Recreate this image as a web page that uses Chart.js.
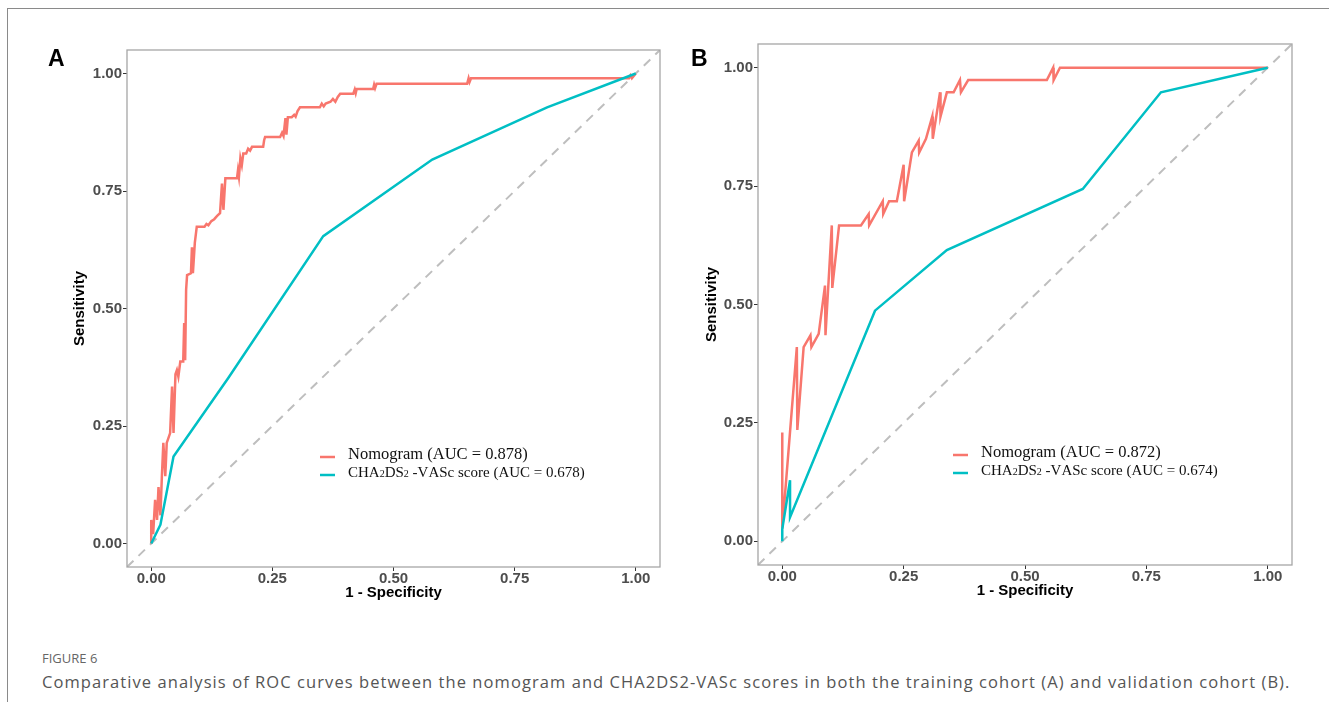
<!DOCTYPE html>
<html lang="en">
<head>
  <meta charset="UTF-8">
  <title>Figure 6 - ROC curves</title>
  <style>
    body {
      margin: 0;
      padding: 0;
      background-color: #fff;
      width: 1329px;
      height: 702px;
      overflow: hidden;
      position: relative;
      font-family: 'Liberation Sans', Arial, sans-serif;
    }

    .frame {
      position: absolute;
      left: 7px;
      top: 8px;
      width: 1330px;
      height: 700px;
      border-top: 1px solid #8a8a8a;
      border-left: 1px solid #8a8a8a;
    }

    .panel {
      position: absolute;
    }

    .letter {
      position: absolute;
      font-weight: bold;
      font-size: 23px;
      color: #000;
    }

    .fig-no {
      position: absolute;
      left: 42px;
      top: 649px;
      font-family: 'Open Sans', sans-serif;
      font-size: 13px;
      color: #666;
    }

    .caption {
      position: absolute;
      left: 42px;
      top: 670px;
      font-family: 'Open Sans', sans-serif;
      font-size: 16.5px;
      letter-spacing: 1.07px;
      color: #555;
      white-space: nowrap;
    }
  </style>
</head>
<body>

  <div class="frame"></div>

  <canvas id="chartA" class="panel" width="630" height="600" style="left:40px; top:20px;"></canvas>
  <canvas id="chartB" class="panel" width="630" height="606" style="left:680px; top:14px;"></canvas>

  <div class="letter" style="left:48px; top:45px;">A</div>
  <div class="letter" style="left:691px; top:45px;">B</div>

  <div class="fig-no">FIGURE 6</div>
  <div class="caption">Comparative analysis of ROC curves between the nomogram and CHA2DS2-VASc scores in both the training cohort (A) and validation cohort (B).</div>

  <script src="https://cdn.jsdelivr.net/npm/chart.js"></script>
  <script>
    // tick positions (both axes, both panels)
    const axisTicks = [0, 0.25, 0.5, 0.75, 1];

    // panel A - training cohort
    const labelsA = ['Nomogram (AUC = 0.878)', 'CHA2DS2 -VASc score (AUC = 0.678)'];
    const nomoAx = [
      0, 0, 0.004, 0.008, 0.012, 0.015, 0.019, 0.022, 0.025, 0.029,
      0.032, 0.039, 0.043, 0.046, 0.050, 0.053, 0.056, 0.060, 0.066, 0.068,
      0.070, 0.072, 0.074, 0.082, 0.084, 0.086, 0.090, 0.094, 0.110, 0.114,
      0.118, 0.124, 0.130, 0.136, 0.142, 0.146, 0.149, 0.153, 0.177, 0.179,
      0.181, 0.184, 0.187, 0.190, 0.196, 0.200, 0.204, 0.208, 0.231, 0.233,
      0.235, 0.266, 0.270, 0.273, 0.277, 0.279, 0.282, 0.290, 0.295, 0.298,
      0.302, 0.307, 0.348, 0.352, 0.356, 0.360, 0.370, 0.375, 0.380, 0.385,
      0.390, 0.417, 0.420, 0.422, 0.424, 0.458, 0.460, 0.462, 0.465, 0.652,
      0.655, 0.657, 0.660, 0.986, 0.989, 0.992, 1
    ];
    const nomoAy = [
      0, 0.05, 0.02, 0.093, 0.05, 0.12, 0.06, 0.143, 0.214, 0.143,
      0.214, 0.235, 0.334, 0.235, 0.36, 0.369, 0.355, 0.387, 0.387, 0.469,
      0.39, 0.54, 0.571, 0.575, 0.63, 0.575, 0.64, 0.674, 0.674, 0.68,
      0.677, 0.686, 0.69, 0.697, 0.703, 0.766, 0.71, 0.777, 0.777, 0.794,
      0.78, 0.82, 0.805, 0.83, 0.83, 0.84, 0.836, 0.844, 0.844, 0.858,
      0.865, 0.865, 0.874, 0.867, 0.905, 0.87, 0.907, 0.907, 0.912, 0.908,
      0.92, 0.928, 0.928, 0.936, 0.93, 0.936, 0.94, 0.946, 0.94, 0.95,
      0.957, 0.957, 0.966, 0.958, 0.967, 0.967, 0.976, 0.969, 0.978, 0.978,
      0.99, 0.982, 0.99, 0.99, 0.996, 0.99, 1
    ];
    const chaAx = [0, 0.019, 0.046, 0.159, 0.355, 0.58, 0.817, 1];
    const chaAy = [0, 0.04, 0.185, 0.352, 0.654, 0.817, 0.928, 1];

    // panel B - validation cohort
    const labelsB = ['Nomogram (AUC = 0.872)', 'CHA2DS2 -VASc score (AUC = 0.674)'];
    const nomoBx = [
      0, 0, 0, 0.030, 0.031, 0.044, 0.058, 0.060, 0.075, 0.088,
      0.089, 0.102, 0.103, 0.117, 0.162, 0.178, 0.179, 0.207, 0.208, 0.220,
      0.236, 0.250, 0.251, 0.263, 0.267, 0.281, 0.282, 0.296, 0.309, 0.310,
      0.325, 0.326, 0.339, 0.353, 0.366, 0.368, 0.383, 0.545, 0.558, 0.559,
      0.572, 1
    ];
    const nomoBy = [
      0.027, 0.23, 0.027, 0.41, 0.235, 0.41, 0.435, 0.41, 0.438, 0.54,
      0.435, 0.667, 0.535, 0.667, 0.667, 0.691, 0.667, 0.718, 0.691, 0.718,
      0.718, 0.795, 0.718, 0.795, 0.821, 0.846, 0.821, 0.85, 0.897, 0.85,
      0.948, 0.897, 0.948, 0.948, 0.974, 0.948, 0.974, 0.974, 1, 0.974,
      1, 1
    ];
    const chaBx = [0, 0, 0.016, 0.016, 0.191, 0.339, 0.619, 0.78, 1];
    const chaBy = [0, 0.026, 0.129, 0.051, 0.487, 0.615, 0.744, 0.948, 1];

    // reference diagonal
    const diagX = [-0.05, 1.05];
    const diagY = [-0.05, 1.05];

    const RED = '#F8766D';
    const TEAL = '#00BFC4';

    function toPoints(xs, ys) {
      return xs.map((x, i) => ({ x: x, y: ys[i] }));
    }

    // draws "CHA2DS2" with the small 2s like the original
    function drawRichText(ctx, text, x, y, size) {
      let cx = x;
      for (let i = 0; i < text.length; i++) {
        const ch = text[i];
        const small = ch === '2' && i > 0 && /[A-Z]/.test(text[i - 1]);
        ctx.font = (small ? Math.round(size * 0.68) : size) + 'px "Liberation Serif", "Times New Roman", serif';
        ctx.fillText(ch, cx, small ? y + size * 0.08 : y);
        cx += ctx.measureText(ch).width;
      }
    }

    const boxAndLegend = {
      id: 'boxAndLegend',
      afterDatasetsDraw(chart, args, opts) {
        const ctx = chart.ctx;
        const a = chart.chartArea;
        ctx.save();
        ctx.strokeStyle = '#a6a6a6';
        ctx.lineWidth = 1.3;
        ctx.strokeRect(a.left, a.top, a.right - a.left, a.bottom - a.top);

        // legend inside the panel
        const kx = a.left + opts.x;
        let ky = a.top + opts.y;
        ctx.textBaseline = 'middle';
        ctx.fillStyle = '#111';
        opts.items.forEach((item, i) => {
          ctx.strokeStyle = item.color;
          ctx.lineWidth = 2.5;
          ctx.beginPath();
          ctx.moveTo(kx, ky + 2);
          ctx.lineTo(kx + 15, ky + 2);
          ctx.stroke();
          drawRichText(ctx, item.text, kx + opts.gap, ky, i === 0 ? 16.5 : 15);
          ky += opts.rowH;
        });
        ctx.restore();
      }
    };

    function makeChart(id, nx, ny, cx, cy, labels, dims) {
      const tickFont = { family: "'Liberation Sans', Arial, sans-serif", size: 15, weight: 'bold', lineHeight: 1 };
      const titleFont = { family: "'Liberation Sans', Arial, sans-serif", size: 15, weight: 'bold' };
      return new Chart(document.getElementById(id), {
        type: 'line',
        data: {
          datasets: [
            {
              label: 'diagonal',
              data: toPoints(diagX, diagY),
              borderColor: '#bebebe',
              borderWidth: 2,
              borderDash: [9, 7],
              pointRadius: 0,
              order: 3
            },
            {
              label: labels[0],
              data: toPoints(nx, ny),
              borderColor: RED,
              borderWidth: 2.5,
              pointRadius: 0,
              order: 2
            },
            {
              label: labels[1],
              data: toPoints(cx, cy),
              borderColor: TEAL,
              borderWidth: 2.5,
              pointRadius: 0,
              order: 1
            }
          ]
        },
        options: {
          responsive: false,
          animation: false,
          layout: { padding: { top: dims.padTop, right: dims.padRight, left: 0, bottom: 0 } },
          plugins: {
            legend: { display: false },
            tooltip: { enabled: false },
            boxAndLegend: {
              x: dims.legX, y: dims.legY, gap: 28, rowH: 18,
              items: [
                { text: labels[0], color: RED },
                { text: labels[1], color: TEAL }
              ]
            }
          },
          scales: {
            x: {
              type: 'linear',
              min: -0.05,
              max: 1.05,
              afterBuildTicks: scale => { scale.ticks = axisTicks.map(v => ({ value: v })); },
              afterFit: scale => { scale.height = dims.xH; },
              border: { display: false },
              grid: { drawOnChartArea: false, drawTicks: true, tickLength: 4, color: '#333', lineWidth: 1 },
              ticks: { font: tickFont, color: '#4d4d4d', padding: 0, maxRotation: 0, callback: v => v.toFixed(2) },
              title: { display: true, text: '1 - Specificity', color: '#000', font: titleFont, padding: { top: 0, bottom: dims.xTitlePad } }
            },
            y: {
              type: 'linear',
              min: -0.05,
              max: 1.05,
              afterBuildTicks: scale => { scale.ticks = axisTicks.map(v => ({ value: v })); },
              afterFit: scale => { scale.width = dims.yW; },
              border: { display: false },
              grid: { drawOnChartArea: false, drawTicks: true, tickLength: 4, color: '#333', lineWidth: 1 },
              ticks: { font: tickFont, color: '#4d4d4d', padding: 1, callback: v => v.toFixed(2) },
              title: { display: true, text: 'Sensitivity', color: '#000', font: titleFont, padding: { top: dims.yTitlePad, bottom: 0 } }
            }
          }
        },
        plugins: [boxAndLegend]
      });
    }

    makeChart('chartA', nomoAx, nomoAy, chaAx, chaAy, labelsA, {
      padTop: 30, padRight: 10, xH: 53, yW: 87, xTitlePad: 18, yTitlePad: 31, legX: 193, legY: 405
    });
    makeChart('chartB', nomoBx, nomoBy, chaBx, chaBy, labelsB, {
      padTop: 30, padRight: 18, xH: 55, yW: 78, xTitlePad: 20, yTitlePad: 23, legX: 195, legY: 409
    });
  </script>

</body>
</html>
